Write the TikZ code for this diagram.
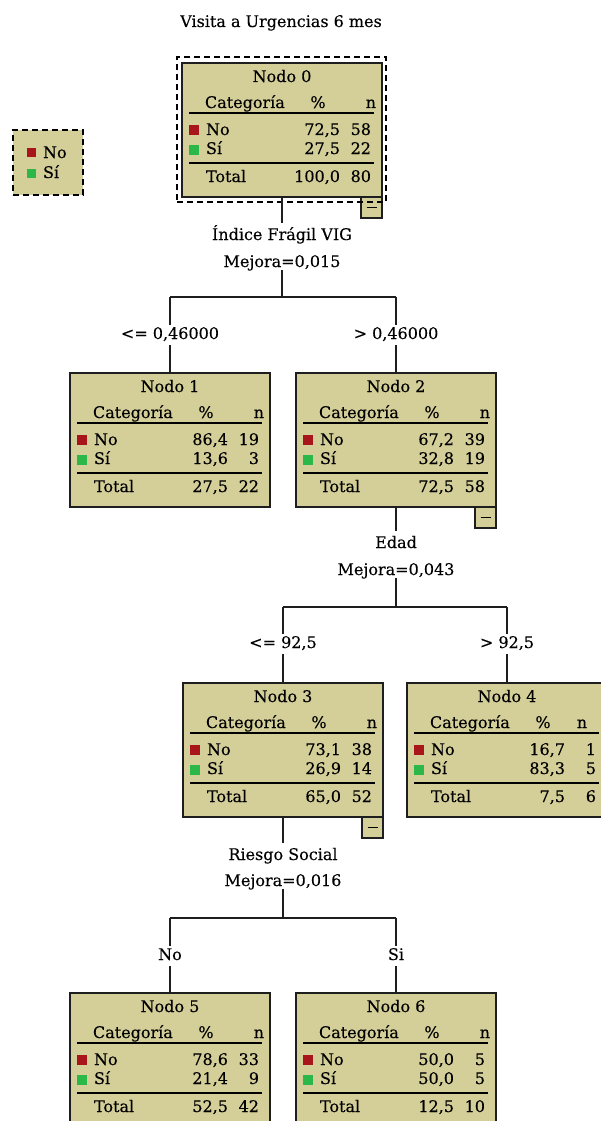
\documentclass[tikz,border=0pt]{standalone}
\usepackage{fontspec}
\newfontfamily\dvs[FakeBold=0.25]{DejaVu Serif}
\usetikzlibrary{calc}
\definecolor{boxfill}{RGB}{212,206,152}
\definecolor{sqred}{RGB}{168,22,28}
\definecolor{sqgreen}{RGB}{44,184,72}
\definecolor{edgec}{RGB}{30,30,30}
\tikzset{
  tbox/.style={draw=edgec, line width=1.4pt, fill=boxfill, minimum width=200pt, minimum height=134pt, inner sep=0pt, outer sep=0pt, anchor=north west},
  txt/.style={inner sep=0pt, outer sep=0pt, text height=11pt, text depth=3pt, font=\dvs\fontsize{16}{19}\selectfont},
  sepline/.style={line width=1.4pt, draw=black},
  conn/.style={line width=1.2pt, draw=edgec},
  collapsebox/.style={draw=edgec, line width=1.4pt, fill=boxfill, minimum width=21pt, minimum height=21pt, inner sep=0pt, outer sep=0pt, anchor=north east},
  selbox/.style={draw=black, line width=1.3pt, dash pattern=on 6pt off 4pt, outer sep=0pt},
}
\def\nhanchor{east}
\def\nhx{194}
\newcommand{\treebox}[9]{%
  \begin{scope}[shift={(#2,#3)}]
    \node[tbox] (nodo#1) at (0,0) {};
    \node[txt] (nodo#1-title) at (100,15) {Nodo #1};
    \node[txt,anchor=west] (nodo#1-cat) at (23,41) {Categoría};
    \node[txt] (nodo#1-pct) at (136,41) {\%};
    \node[txt,anchor=\nhanchor] (nodo#1-n) at (\nhx,41) {n};
    \draw[sepline] (7,50) -- (192,50);
    \fill[sqred] (7,62) rectangle (17,72);
    \node[txt,anchor=west] (nodo#1-no) at (24,68) {No};
    \node[txt,anchor=east] (nodo#1-pno) at (158,68) {#4};
    \node[txt,anchor=east] (nodo#1-nno) at (189,68) {#5};
    \fill[sqgreen] (7,82) rectangle (17,92);
    \node[txt,anchor=west] (nodo#1-si) at (24,87) {Sí};
    \node[txt,anchor=east] (nodo#1-psi) at (158,87) {#6};
    \node[txt,anchor=east] (nodo#1-nsi) at (189,87) {#7};
    \draw[sepline] (7,100) -- (192,100);
    \node[txt,anchor=west] (nodo#1-tot) at (24,115) {Total};
    \node[txt,anchor=east] (nodo#1-ptot) at (158,115) {#8};
    \node[txt,anchor=east] (nodo#1-ntot) at (189,115) {#9};
  \end{scope}}
\newcommand{\collapser}[1]{%
  \node[collapsebox] (nodo#1-c) at (nodo#1.south east) {};
  \draw[line width=1.2pt] ([xshift=-5pt]nodo#1-c.center) -- ([xshift=5pt]nodo#1-c.center);}
\begin{document}
\begin{tikzpicture}[x=1pt,y=-1pt]
  \useasboundingbox (0,0) rectangle (601,1121);
  \fill[white] (0,0) rectangle (601,1121);
  \clip (0,0) rectangle (601,1121);

  % title
  \node[txt] (title) at (281,23) {Visita a Urgencias 6 mes};

  % legend
  \node[selbox, fill=boxfill, minimum width=70pt, minimum height=65pt, inner sep=0pt, anchor=north west] (legend) at (13,130) {};
  \fill[sqred] (27,148) rectangle (36,157);
  \node[txt,anchor=west] (leg-no) at (43,154) {No};
  \fill[sqgreen] (27,169) rectangle (36,178);
  \node[txt,anchor=west] (leg-si) at (43,174) {Sí};

  % nodes
  \treebox{0}{182}{63}{72,5}{58}{27,5}{22}{100,0}{80}
  \collapser{0}
  \node[selbox, minimum width=209pt, minimum height=145pt, inner sep=0pt, anchor=north west] (sel0) at (177,57) {};
  \treebox{1}{70}{373}{86,4}{19}{13,6}{3}{27,5}{22}
  \treebox{2}{296}{373}{67,2}{39}{32,8}{19}{72,5}{58}
  \collapser{2}
  \treebox{3}{183}{683}{73,1}{38}{26,9}{14}{65,0}{52}
  \collapser{3}
  {\def\nhanchor{center}\def\nhx{175}%
  \treebox{4}{407}{683}{16,7}{1}{83,3}{5}{7,5}{6}}
  \treebox{5}{70}{993}{78,6}{33}{21,4}{9}{52,5}{42}
  \treebox{6}{296}{993}{50,0}{5}{50,0}{5}{12,5}{10}

  % split 0
  \node[txt] (s0a) at (282,236) {Índice Frágil VIG};
  \node[txt] (s0b) at (282,263) {Mejora=0,015};
  \coordinate (j0) at (282,297);
  \coordinate (j0l) at (170,297);
  \coordinate (j0r) at (396,297);
  \node[txt] (b1) at (170,335) {<= 0,46000};
  \node[txt] (b2) at (396,335) {> 0,46000};
  \draw[conn] (nodo0.south) -- ([yshift=6pt]s0a.north);
  \draw[conn] (s0b.south) -- (j0);
  \draw[conn] (j0l) -- (j0r);
  \draw[conn] (j0l) -- ([yshift=3pt]b1.north);
  \draw[conn] ([yshift=-3pt]b1.south) -- (nodo1.north);
  \draw[conn] (j0r) -- ([yshift=3pt]b2.north);
  \draw[conn] ([yshift=-3pt]b2.south) -- (nodo2.north);

  % split 2
  \node[txt] (s2a) at (396,544) {Edad};
  \node[txt] (s2b) at (396,571) {Mejora=0,043};
  \coordinate (j2) at (396,607);
  \coordinate (j2l) at (283,607);
  \coordinate (j2r) at (507,607);
  \node[txt] (b3) at (283,644) {<= 92,5};
  \node[txt] (b4) at (507,644) {> 92,5};
  \draw[conn] (nodo2.south) -- ([yshift=6pt]s2a.north);
  \draw[conn] (s2b.south) -- (j2);
  \draw[conn] (j2l) -- (j2r);
  \draw[conn] (j2l) -- ([yshift=3pt]b3.north);
  \draw[conn] ([yshift=-3pt]b3.south) -- (nodo3.north);
  \draw[conn] (j2r) -- ([yshift=3pt]b4.north);
  \draw[conn] ([yshift=-3pt]b4.south) -- (nodo4.north);

  % split 3
  \node[txt] (s3a) at (283,856) {Riesgo Social};
  \node[txt] (s3b) at (283,882) {Mejora=0,016};
  \coordinate (j3) at (283,918);
  \coordinate (j3l) at (170,918);
  \coordinate (j3r) at (396,918);
  \node[txt] (b5) at (170,956) {No};
  \node[txt] (b6) at (396,956) {Si};
  \draw[conn] (nodo3.south) -- ([yshift=6pt]s3a.north);
  \draw[conn] (s3b.south) -- (j3);
  \draw[conn] (j3l) -- (j3r);
  \draw[conn] (j3l) -- ([yshift=3pt]b5.north);
  \draw[conn] ([yshift=-3pt]b5.south) -- (nodo5.north);
  \draw[conn] (j3r) -- ([yshift=3pt]b6.north);
  \draw[conn] ([yshift=-3pt]b6.south) -- (nodo6.north);
\end{tikzpicture}
\end{document}
